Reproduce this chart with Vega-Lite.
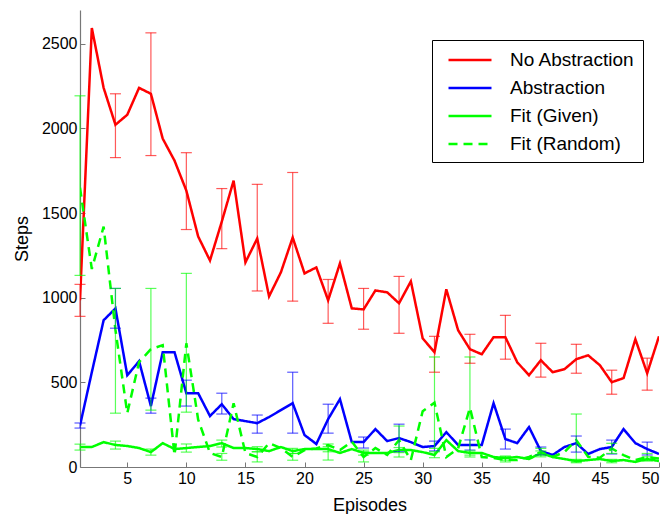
{
  "$schema": "https://vega.github.io/schema/vega-lite/v6.json",
  "autosize": {"type": "none"},
  "padding": {"left": 80, "top": 10, "right": 12, "bottom": 47},
  "width": 579,
  "height": 457,
  "background": "white",
  "config": {
    "view": {"stroke": null},
    "font": "Liberation Sans",
    "axis": {
      "domainColor": "#777777",
      "tickColor": "#777777",
      "labelColor": "#000000",
      "titleColor": "#000000",
      "labelFont": "Liberation Sans",
      "titleFont": "Liberation Sans",
      "labelFontSize": 16,
      "titleFontSize": 18,
      "titleFontWeight": "normal",
      "grid": false,
      "tickSize": -5,
      "domainWidth": 1.2
    },
    "legend": {
      "orient": "none",
      "legendX": 352,
      "legendY": 30,
      "strokeColor": "#000000",
      "fillColor": "#ffffff",
      "padding": 8,
      "labelFont": "Liberation Sans",
      "labelFontSize": 19,
      "labelColor": "#000000",
      "symbolType": "M-2,0H2",
      "symbolSize": 462,
      "symbolStrokeWidth": 2.5,
      "symbolOffset": 18,
      "labelOffset": 28,
      "rowPadding": 6,
      "title": null,
      "labelLimit": 300
    }
  },
  "datasets": {
    "lines": [
      {"ep": 1, "No Abstraction": 985, "Abstraction": 245, "Fit (Given)": 118, "Fit (Random)": 1650},
      {"ep": 2, "No Abstraction": 2594, "Abstraction": 560, "Fit (Given)": 118, "Fit (Random)": 1170},
      {"ep": 3, "No Abstraction": 2240, "Abstraction": 867, "Fit (Given)": 147, "Fit (Random)": 1420},
      {"ep": 4, "No Abstraction": 2022, "Abstraction": 937, "Fit (Given)": 130, "Fit (Random)": 810},
      {"ep": 5, "No Abstraction": 2081, "Abstraction": 542, "Fit (Given)": 124, "Fit (Random)": 318},
      {"ep": 6, "No Abstraction": 2240, "Abstraction": 625, "Fit (Given)": 112, "Fit (Random)": 620},
      {"ep": 7, "No Abstraction": 2205, "Abstraction": 360, "Fit (Given)": 88, "Fit (Random)": 696},
      {"ep": 8, "No Abstraction": 1940, "Abstraction": 678, "Fit (Given)": 141, "Fit (Random)": 720},
      {"ep": 9, "No Abstraction": 1810, "Abstraction": 678, "Fit (Given)": 106, "Fit (Random)": 70},
      {"ep": 10, "No Abstraction": 1633, "Abstraction": 436, "Fit (Given)": 112, "Fit (Random)": 731},
      {"ep": 11, "No Abstraction": 1362, "Abstraction": 436, "Fit (Given)": 118, "Fit (Random)": 280},
      {"ep": 12, "No Abstraction": 1220, "Abstraction": 301, "Fit (Given)": 124, "Fit (Random)": 83},
      {"ep": 13, "No Abstraction": 1450, "Abstraction": 371, "Fit (Given)": 141, "Fit (Random)": 59},
      {"ep": 14, "No Abstraction": 1692, "Abstraction": 283, "Fit (Given)": 112, "Fit (Random)": 377},
      {"ep": 15, "No Abstraction": 1209, "Abstraction": 271, "Fit (Given)": 112, "Fit (Random)": 83},
      {"ep": 16, "No Abstraction": 1350, "Abstraction": 259, "Fit (Given)": 106, "Fit (Random)": 59},
      {"ep": 17, "No Abstraction": 1008, "Abstraction": 295, "Fit (Given)": 94, "Fit (Random)": 141},
      {"ep": 18, "No Abstraction": 1150, "Abstraction": 336, "Fit (Given)": 118, "Fit (Random)": 112},
      {"ep": 19, "No Abstraction": 1356, "Abstraction": 377, "Fit (Given)": 94, "Fit (Random)": 59},
      {"ep": 20, "No Abstraction": 1144, "Abstraction": 189, "Fit (Given)": 106, "Fit (Random)": 100},
      {"ep": 21, "No Abstraction": 1179, "Abstraction": 136, "Fit (Given)": 106, "Fit (Random)": 110},
      {"ep": 22, "No Abstraction": 985, "Abstraction": 283, "Fit (Given)": 106, "Fit (Random)": 130},
      {"ep": 23, "No Abstraction": 1203, "Abstraction": 401, "Fit (Given)": 83, "Fit (Random)": 100},
      {"ep": 24, "No Abstraction": 937, "Abstraction": 147, "Fit (Given)": 106, "Fit (Random)": 150},
      {"ep": 25, "No Abstraction": 931, "Abstraction": 147, "Fit (Given)": 83, "Fit (Random)": 59},
      {"ep": 26, "No Abstraction": 1043, "Abstraction": 224, "Fit (Given)": 83, "Fit (Random)": 112},
      {"ep": 27, "No Abstraction": 1032, "Abstraction": 153, "Fit (Given)": 83, "Fit (Random)": 71},
      {"ep": 28, "No Abstraction": 967, "Abstraction": 171, "Fit (Given)": 100, "Fit (Random)": 159},
      {"ep": 29, "No Abstraction": 1097, "Abstraction": 147, "Fit (Given)": 100, "Fit (Random)": 41},
      {"ep": 30, "No Abstraction": 760, "Abstraction": 118, "Fit (Given)": 88, "Fit (Random)": 330},
      {"ep": 31, "No Abstraction": 678, "Abstraction": 124, "Fit (Given)": 71, "Fit (Random)": 380},
      {"ep": 32, "No Abstraction": 1050, "Abstraction": 206, "Fit (Given)": 159, "Fit (Random)": 59},
      {"ep": 33, "No Abstraction": 808, "Abstraction": 130, "Fit (Given)": 94, "Fit (Random)": 110},
      {"ep": 34, "No Abstraction": 696, "Abstraction": 130, "Fit (Given)": 83, "Fit (Random)": 350},
      {"ep": 35, "No Abstraction": 666, "Abstraction": 130, "Fit (Given)": 83, "Fit (Random)": 59},
      {"ep": 36, "No Abstraction": 767, "Abstraction": 377, "Fit (Given)": 59, "Fit (Random)": 53},
      {"ep": 37, "No Abstraction": 767, "Abstraction": 165, "Fit (Given)": 53, "Fit (Random)": 41},
      {"ep": 38, "No Abstraction": 619, "Abstraction": 141, "Fit (Given)": 59, "Fit (Random)": 41},
      {"ep": 39, "No Abstraction": 542, "Abstraction": 236, "Fit (Given)": 47, "Fit (Random)": 60},
      {"ep": 40, "No Abstraction": 631, "Abstraction": 94, "Fit (Given)": 83, "Fit (Random)": 88},
      {"ep": 41, "No Abstraction": 560, "Abstraction": 71, "Fit (Given)": 59, "Fit (Random)": 60},
      {"ep": 42, "No Abstraction": 578, "Abstraction": 118, "Fit (Given)": 47, "Fit (Random)": 88},
      {"ep": 43, "No Abstraction": 637, "Abstraction": 141, "Fit (Given)": 35, "Fit (Random)": 159},
      {"ep": 44, "No Abstraction": 660, "Abstraction": 77, "Fit (Given)": 41, "Fit (Random)": 60},
      {"ep": 45, "No Abstraction": 601, "Abstraction": 106, "Fit (Given)": 47, "Fit (Random)": 55},
      {"ep": 46, "No Abstraction": 501, "Abstraction": 118, "Fit (Given)": 35, "Fit (Random)": 110},
      {"ep": 47, "No Abstraction": 525, "Abstraction": 224, "Fit (Given)": 41, "Fit (Random)": 70},
      {"ep": 48, "No Abstraction": 755, "Abstraction": 141, "Fit (Given)": 30, "Fit (Random)": 41},
      {"ep": 49, "No Abstraction": 554, "Abstraction": 106, "Fit (Given)": 47, "Fit (Random)": 59},
      {"ep": 50, "No Abstraction": 772, "Abstraction": 77, "Fit (Given)": 35, "Fit (Random)": 50}
    ],
    "err": [
      {"ep": 1, "series": "No Abstraction", "lo": 890, "hi": 1079},
      {"ep": 4, "series": "No Abstraction", "lo": 1828, "hi": 2205},
      {"ep": 7, "series": "No Abstraction", "lo": 1840, "hi": 2565},
      {"ep": 10, "series": "No Abstraction", "lo": 1403, "hi": 1857},
      {"ep": 13, "series": "No Abstraction", "lo": 1290, "hi": 1645},
      {"ep": 16, "series": "No Abstraction", "lo": 1040, "hi": 1670},
      {"ep": 19, "series": "No Abstraction", "lo": 980, "hi": 1740},
      {"ep": 22, "series": "No Abstraction", "lo": 849, "hi": 1108},
      {"ep": 25, "series": "No Abstraction", "lo": 814, "hi": 1055},
      {"ep": 28, "series": "No Abstraction", "lo": 790, "hi": 1126},
      {"ep": 31, "series": "No Abstraction", "lo": 560, "hi": 772},
      {"ep": 34, "series": "No Abstraction", "lo": 613, "hi": 784},
      {"ep": 37, "series": "No Abstraction", "lo": 637, "hi": 896},
      {"ep": 40, "series": "No Abstraction", "lo": 531, "hi": 731},
      {"ep": 43, "series": "No Abstraction", "lo": 554, "hi": 725},
      {"ep": 46, "series": "No Abstraction", "lo": 430, "hi": 572},
      {"ep": 49, "series": "No Abstraction", "lo": 454, "hi": 643},
      {"ep": 1, "series": "Abstraction", "lo": 230, "hi": 260},
      {"ep": 4, "series": "Abstraction", "lo": 820, "hi": 1055},
      {"ep": 7, "series": "Abstraction", "lo": 318, "hi": 407},
      {"ep": 10, "series": "Abstraction", "lo": 360, "hi": 513},
      {"ep": 13, "series": "Abstraction", "lo": 313, "hi": 436},
      {"ep": 16, "series": "Abstraction", "lo": 200, "hi": 307},
      {"ep": 19, "series": "Abstraction", "lo": 200, "hi": 560},
      {"ep": 22, "series": "Abstraction", "lo": 200, "hi": 371},
      {"ep": 25, "series": "Abstraction", "lo": 112, "hi": 177},
      {"ep": 28, "series": "Abstraction", "lo": 90, "hi": 253},
      {"ep": 31, "series": "Abstraction", "lo": 95, "hi": 153},
      {"ep": 34, "series": "Abstraction", "lo": 100, "hi": 160},
      {"ep": 37, "series": "Abstraction", "lo": 106, "hi": 224},
      {"ep": 40, "series": "Abstraction", "lo": 71, "hi": 118},
      {"ep": 43, "series": "Abstraction", "lo": 88, "hi": 183},
      {"ep": 46, "series": "Abstraction", "lo": 77, "hi": 159},
      {"ep": 49, "series": "Abstraction", "lo": 71, "hi": 147},
      {"ep": 1, "series": "Fit (Given)", "lo": 100, "hi": 135},
      {"ep": 4, "series": "Fit (Given)", "lo": 106, "hi": 153},
      {"ep": 7, "series": "Fit (Given)", "lo": 70, "hi": 106},
      {"ep": 10, "series": "Fit (Given)", "lo": 88, "hi": 136},
      {"ep": 13, "series": "Fit (Given)", "lo": 118, "hi": 159},
      {"ep": 16, "series": "Fit (Given)", "lo": 90, "hi": 120},
      {"ep": 19, "series": "Fit (Given)", "lo": 80, "hi": 110},
      {"ep": 22, "series": "Fit (Given)", "lo": 90, "hi": 120},
      {"ep": 25, "series": "Fit (Given)", "lo": 70, "hi": 100},
      {"ep": 28, "series": "Fit (Given)", "lo": 85, "hi": 115},
      {"ep": 31, "series": "Fit (Given)", "lo": 55, "hi": 90},
      {"ep": 34, "series": "Fit (Given)", "lo": 70, "hi": 95},
      {"ep": 37, "series": "Fit (Given)", "lo": 40, "hi": 65},
      {"ep": 40, "series": "Fit (Given)", "lo": 70, "hi": 95},
      {"ep": 43, "series": "Fit (Given)", "lo": 25, "hi": 45},
      {"ep": 46, "series": "Fit (Given)", "lo": 25, "hi": 45},
      {"ep": 49, "series": "Fit (Given)", "lo": 35, "hi": 60},
      {"ep": 1, "series": "Fit (Random)", "lo": 1132, "hi": 2193},
      {"ep": 4, "series": "Fit (Random)", "lo": 318, "hi": 1055},
      {"ep": 7, "series": "Fit (Random)", "lo": 336, "hi": 1055},
      {"ep": 10, "series": "Fit (Random)", "lo": 324, "hi": 1144},
      {"ep": 13, "series": "Fit (Random)", "lo": 40, "hi": 80},
      {"ep": 16, "series": "Fit (Random)", "lo": 30, "hi": 90},
      {"ep": 19, "series": "Fit (Random)", "lo": 40, "hi": 80},
      {"ep": 22, "series": "Fit (Random)", "lo": 41, "hi": 136},
      {"ep": 25, "series": "Fit (Random)", "lo": 30, "hi": 90},
      {"ep": 28, "series": "Fit (Random)", "lo": 59, "hi": 242},
      {"ep": 31, "series": "Fit (Random)", "lo": 110, "hi": 650},
      {"ep": 34, "series": "Fit (Random)", "lo": 59, "hi": 650},
      {"ep": 37, "series": "Fit (Random)", "lo": 30, "hi": 60},
      {"ep": 40, "series": "Fit (Random)", "lo": 60, "hi": 110},
      {"ep": 43, "series": "Fit (Random)", "lo": 30, "hi": 313},
      {"ep": 46, "series": "Fit (Random)", "lo": 80, "hi": 140},
      {"ep": 49, "series": "Fit (Random)", "lo": 40, "hi": 80}
    ]
  },
  "layer": [
    {
      "data": {"name": "lines"},
      "transform": [
        {"fold": ["No Abstraction", "Abstraction", "Fit (Given)", "Fit (Random)"], "as": ["series", "steps"]}
      ],
      "mark": {"type": "line", "strokeWidth": 2.5, "clip": true},
      "encoding": {
        "x": {
          "field": "ep", "type": "quantitative",
          "scale": {"domain": [1, 50], "nice": false, "zero": false},
          "axis": {"values": [5, 10, 15, 20, 25, 30, 35, 40, 45, 50], "title": "Episodes", "labelPadding": 8, "titlePadding": 10}
        },
        "y": {
          "field": "steps", "type": "quantitative",
          "scale": {"domain": [0, 2700], "nice": false},
          "axis": {"values": [0, 500, 1000, 1500, 2000, 2500], "format": "d", "title": "Steps", "labelPadding": 8, "titlePadding": 10}
        },
        "color": {
          "field": "series", "type": "nominal",
          "scale": {"domain": ["No Abstraction", "Abstraction", "Fit (Given)", "Fit (Random)"], "range": ["#ff0000", "#0000ff", "#00ff00", "#00ff00"]},
          "legend": {"title": null}
        },
        "strokeDash": {
          "field": "series", "type": "nominal",
          "scale": {"domain": ["No Abstraction", "Abstraction", "Fit (Given)", "Fit (Random)"], "range": [[1, 0], [1, 0], [1, 0], [9, 6]]},
          "legend": {"title": null}
        },
        "order": {"field": "ep", "type": "quantitative"}
      }
    },
    {
      "data": {"name": "err"},
      "mark": {"type": "rule", "strokeWidth": 1.2, "opacity": 0.65},
      "encoding": {
        "x": {"field": "ep", "type": "quantitative", "title": "Episodes"},
        "y": {"field": "lo", "type": "quantitative", "title": "Steps"},
        "y2": {"field": "hi"},
        "color": {"field": "series", "type": "nominal", "legend": null}
      }
    },
    {
      "data": {"name": "err"},
      "transform": [{"fold": ["lo", "hi"], "as": ["end", "val"]}],
      "mark": {"type": "tick", "orient": "horizontal", "size": 11, "thickness": 1.2, "opacity": 0.65},
      "encoding": {
        "x": {"field": "ep", "type": "quantitative", "title": "Episodes"},
        "y": {"field": "val", "type": "quantitative", "title": "Steps"},
        "color": {"field": "series", "type": "nominal", "legend": null}
      }
    }
  ]
}
